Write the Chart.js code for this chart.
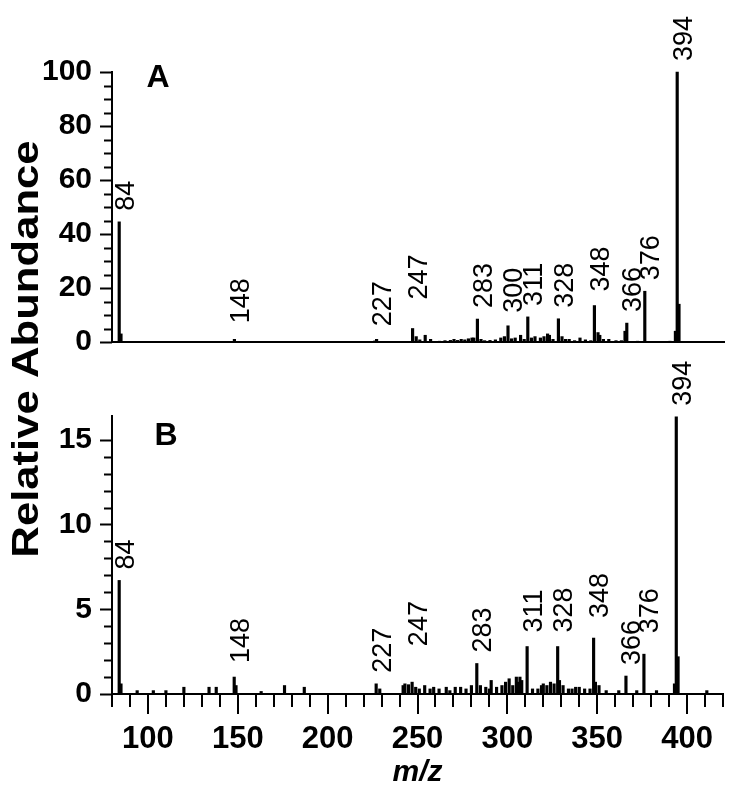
<!DOCTYPE html>
<html>
<head>
<meta charset="utf-8">
<script src="https://cdn.jsdelivr.net/npm/chart.js@4.4.0/dist/chart.umd.min.js"></script>
<style>
  html, body { margin: 0; padding: 0; background: #fff; }
  #wrap { position: relative; width: 750px; height: 794px; }
  canvas { position: absolute; left: 0; top: 0; }
</style>
</head>
<body>
<div id="wrap">
  <canvas id="chartB" width="750" height="794"></canvas>
  <canvas id="chartA" width="750" height="380"></canvas>
</div>
<script>
// panel A : m/z and relative abundance (%)
const mzA = [
  84, 85, 148, 226, 227, 247, 249, 251, 254, 257,
  262, 265, 268, 270, 272, 274, 276, 278, 280, 281,
  283, 285, 287, 290, 293, 296, 298, 300, 302, 304,
  307, 309, 311, 313, 315, 318, 320, 322, 323, 325,
  328, 330, 332, 334, 337, 340, 343, 346, 348, 350,
  351, 353, 356, 360, 363, 365, 366, 372, 376, 390,
  393, 394, 395
]
const relA = [
  44.5, 3, 1, 0.4, 1, 5, 2, 0.8, 2.5, 1,
  0.3, 0.5, 0.6, 1, 0.6, 1, 0.8, 1.2, 1.5, 1.5,
  8.5, 1, 0.5, 0.6, 0.8, 1.5, 2, 6, 1.2, 1.5,
  2.5, 1, 9.3, 1.5, 2, 1.5, 2, 3, 2.5, 1,
  8.6, 2, 1, 1, 0.5, 1.5, 0.8, 0.5, 13.5, 3.5,
  2.5, 1, 1, 0.5, 0.5, 4, 7, 0.3, 18.8, 0.3,
  4, 100, 14
]
const labelsA = [84, 148, 227, 247, 283, 300, 311, 328, 348, 366, 376, 394]

// panel B
const mzB = [
  84, 85, 94, 103, 110, 120, 134, 138, 148, 149,
  163, 176, 187, 227, 229, 242, 243, 245, 247, 249,
  251, 254, 257, 259, 262, 266, 268, 271, 274, 277,
  280, 283, 285, 288, 290, 291, 294, 297, 299, 301,
  303, 305, 306, 307, 308, 311, 314, 317, 319, 320,
  322, 324, 326, 328, 329, 331, 334, 336, 338, 340,
  343, 346, 348, 349, 351, 355, 362, 366, 372, 376,
  383, 393, 394, 395, 411
]
const relB = [
  6.7, 0.6, 0.2, 0.2, 0.2, 0.4, 0.4, 0.4, 1.0, 0.5,
  0.15, 0.5, 0.4, 0.6, 0.3, 0.5, 0.6, 0.55, 0.7, 0.4,
  0.3, 0.5, 0.3, 0.4, 0.3, 0.4, 0.2, 0.4, 0.4, 0.3,
  0.5, 1.8, 0.5, 0.4, 0.3, 0.8, 0.4, 0.5, 0.7, 0.9,
  0.5, 1.0, 0.7, 1.0, 0.8, 2.8, 0.3, 0.3, 0.5, 0.6,
  0.5, 0.7, 0.6, 2.8, 0.8, 0.5, 0.3, 0.3, 0.4, 0.4,
  0.3, 0.3, 3.3, 0.7, 0.5, 0.2, 0.2, 1.06, 0.2, 2.35,
  0.2, 0.6, 16.35, 2.2, 0.2
]
const labelsB = [84, 148, 227, 247, 283, 311, 328, 348, 366, 376, 394]

const xTicksMajor = [100, 150, 200, 250, 300, 350, 400]

const FONT = "'Liberation Sans', Arial, Helvetica, sans-serif"
Chart.defaults.font.family = FONT
Chart.defaults.color = '#000'

function toPoints(mz, vals) {
  return mz.map((m, i) => ({ x: m, y: vals[i] }))
}

// tick marks (long major, short minor), rotated peak labels, panel letter
function makeDecor(cfg) {
  return {
    id: 'decor',
    afterDatasetsDraw(chart) {
      const ctx = chart.ctx
      const { left, top, bottom } = chart.chartArea
      const xs = chart.scales.x, ys = chart.scales.y
      ctx.save()
      ctx.strokeStyle = '#000'
      ctx.lineWidth = 2
      ys.ticks.forEach(t => {
        if (!Number.isInteger(t.value)) return
        const len = t.value % cfg.yMajor === 0 ? 12 : 8
        const py = Math.round(ys.getPixelForValue(t.value)) + 0.5
        ctx.beginPath(); ctx.moveTo(left - len, py); ctx.lineTo(left, py); ctx.stroke()
      })
      if (cfg.xTicks) {
        xs.ticks.forEach(t => {
          const len = xTicksMajor.includes(t.value) ? 20 : 13
          const px = Math.round(xs.getPixelForValue(t.value))
          ctx.beginPath(); ctx.moveTo(px, bottom); ctx.lineTo(px, bottom + len); ctx.stroke()
        })
      }
      ctx.fillStyle = '#000'
      ctx.font = '27px ' + FONT
      ctx.textAlign = 'left'
      ctx.textBaseline = 'middle'
      cfg.labels.forEach(m => {
        const i = cfg.mz.indexOf(m)
        const px = xs.getPixelForValue(m) + 7
        const py = ys.getPixelForValue(cfg.vals[i]) - 11 - (cfg.lift[m] || 0)
        ctx.save()
        ctx.translate(px, py)
        ctx.rotate(-Math.PI / 2)
        ctx.fillText(String(m), 0, 0)
        ctx.restore()
      })
      ctx.font = 'bold 32px ' + FONT
      ctx.textAlign = 'center'
      ctx.fillText(cfg.letter, left + cfg.letterDx, top + cfg.letterDy)
      ctx.restore()
    }
  }
}

const yTitle = {
  id: 'yTitle',
  afterDraw(chart) {
    const ctx = chart.ctx
    ctx.save()
    ctx.translate(28, 349)
    ctx.rotate(-Math.PI / 2)
    ctx.scale(1.18, 1)
    ctx.font = 'bold 37px ' + FONT
    ctx.fillStyle = '#000'
    ctx.textAlign = 'center'
    ctx.textBaseline = 'middle'
    ctx.fillText('Relative Abundance', 0, 0)
    ctx.restore()
  }
}

function baseOptions(yMax, yStep, yMajor, pad) {
  return {
    responsive: false,
    animation: false,
    layout: { padding: pad },
    plugins: { legend: { display: false }, tooltip: { enabled: false } },
    scales: {
      y: {
        min: 0, max: yMax,
        ticks: {
          stepSize: yStep, autoSkip: false, padding: 20,
          font: { size: 30, weight: 'bold' },
          callback: v => (v % yMajor === 0 ? v : '')
        },
        grid: { display: false, drawTicks: false },
        border: { color: '#000', width: 2 },
        afterFit: s => { s.width = 112 }
      }
    }
  }
}

// panel A
const optA = baseOptions(100, 5, 20, { top: 72, right: 26, left: 0, bottom: 30 })
optA.scales.x = {
  type: 'linear', min: 80, max: 420, offset: false,
  grid: { display: false, drawTicks: false },
  ticks: { display: false },
  border: { color: '#000', width: 2 },
  afterFit: s => { s.height = 1 }
}
new Chart(document.getElementById('chartA'), {
  type: 'bar',
  data: { datasets: [{ data: toPoints(mzA, relA), backgroundColor: '#000', barThickness: 2.5, clip: false }] },
  options: optA,
  plugins: [makeDecor({
    mz: mzA, vals: relA, labels: labelsA, yMajor: 20, xTicks: false,
    lift: { 148: 5, 227: 2, 247: 18, 300: 2, 348: 3 },
    letter: 'A', letterDx: 46, letterDy: 6
  })]
})

// panel B
const optB = baseOptions(16.4, 1, 5, { top: 416, right: 26, left: 0, bottom: 0 })
optB.scales.x = {
  type: 'linear', min: 80, max: 420, offset: false,
  grid: { display: false, drawTicks: false },
  ticks: {
    stepSize: 10, autoSkip: false, maxRotation: 0, padding: 27,
    font: { size: 31, weight: 'bold' },
    callback: v => (xTicksMajor.includes(v) ? v : '')
  },
  border: { color: '#000', width: 2 },
  title: { display: true, text: 'm/z', font: { size: 30, weight: 'bold', style: 'italic' }, padding: { top: 0, bottom: 3 } },
  afterFit: s => { s.height = 100 }
}
new Chart(document.getElementById('chartB'), {
  type: 'bar',
  data: { datasets: [{ data: toPoints(mzB, relB), backgroundColor: '#000', barThickness: 2.5, clip: false }] },
  options: optB,
  plugins: [makeDecor({
    mz: mzB, vals: relB, labels: labelsB, yMajor: 5, xTicks: true,
    lift: { 148: 3, 247: 25, 311: 3, 328: 3, 348: 9, 376: 10 },
    letter: 'B', letterDx: 54, letterDy: 20
  }), yTitle]
})
</script>
</body>
</html>
